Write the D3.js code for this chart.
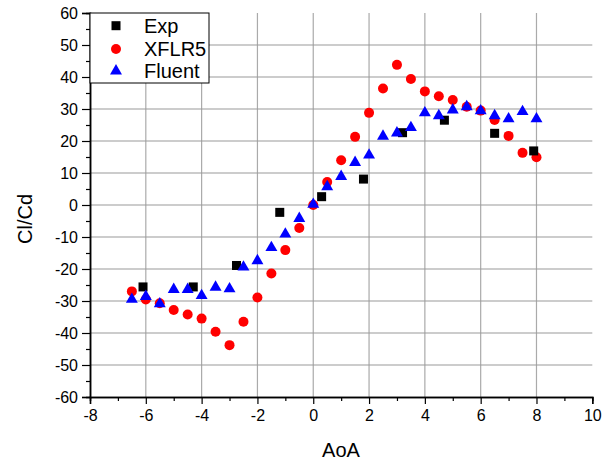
<!DOCTYPE html>
<html>
<head>
<meta charset="utf-8">
<script src="https://cdn.jsdelivr.net/npm/d3@7"></script>
<style>
  body { margin: 0; background: #fff; }
  text { font-family: "Liberation Sans", Arial, sans-serif; fill: #000; }
</style>
</head>
<body>
<svg id="chart" width="611" height="462"></svg>
<script>
// data
var expAoA = [-6.1, -4.3, -2.75, -1.2, 0.3, 1.8, 3.2, 4.7, 6.5, 7.9];
var expClCd = [-25.6, -25.6, -18.9, -2.3, 2.6, 8.1, 22.6, 26.5, 22.4, 16.9];

var xflrAoA = [-6.5, -6, -5.5, -5, -4.5, -4, -3.5, -3, -2.5, -2, -1.5, -1, -0.5, 0,
               0.5, 1, 1.5, 2, 2.5, 3, 3.5, 4, 4.5, 5, 5.5, 6, 6.5, 7, 7.5, 8];
var xflrClCd = [-27, -29.5, -30.7, -32.8, -34.2, -35.5, -39.6, -43.8, -36.5, -28.9, -21.4, -14.1, -7.2, 0,
                7.2, 14, 21.3, 28.8, 36.4, 43.8, 39.4, 35.5, 34, 32.8, 30.7, 29.5, 26.6, 21.6, 16.3, 14.9];

var fluentAoA = [-6.5, -6, -5.5, -5, -4.5, -4, -3.5, -3, -2.5, -2, -1.5, -1, -0.5, 0,
                 0.5, 1, 1.5, 2, 2.5, 3, 3.5, 4, 4.5, 5, 5.5, 6, 6.5, 7, 7.5, 8];
var fluentClCd = [-29.5, -28.6, -30.9, -26.4, -26.4, -28.3, -25.7, -26.2, -19.4, -17.4, -13.3, -9.1, -4.2, 0.2,
                  5.7, 8.9, 13.3, 15.6, 21.5, 22.5, 24.2, 28.8, 27.9, 29.7, 30.7, 29.4, 27.9, 26.9, 29.2, 26.9];

var xTicks = [-8, -6, -4, -2, 0, 2, 4, 6, 8, 10];
var yTicks = [-60, -50, -40, -30, -20, -10, 0, 10, 20, 30, 40, 50, 60];
var seriesNames = ["Exp", "XFLR5", "Fluent"];

var svg = d3.select("#chart");
var pLeft = 90, pRight = 592.3, pTop = 13, pBottom = 397;

var x = d3.scaleLinear().domain([-8, 10]).range([pLeft, pRight]);
var y = d3.scaleLinear().domain([-60, 60]).range([pBottom, pTop]);

// grid
svg.append("g").selectAll("line")
  .data(xTicks.filter(function(d) { return d > -8 && d < 10; }))
  .enter().append("line")
  .attr("x1", function(d) { return x(d); }).attr("x2", function(d) { return x(d); })
  .attr("y1", pTop).attr("y2", pBottom)
  .attr("stroke", "#aaa").attr("stroke-width", 1.2);

svg.append("g").selectAll("line")
  .data(yTicks.filter(function(d) { return d > -60 && d < 60; }))
  .enter().append("line")
  .attr("x1", pLeft).attr("x2", pRight)
  .attr("y1", function(d) { return y(d); }).attr("y2", function(d) { return y(d); })
  .attr("stroke", "#999").attr("stroke-width", 1.2);

// axes
var fmt = function(d) { return String(d); };
var xAxis = d3.axisBottom(x).tickValues(xTicks).tickSize(7).tickPadding(6).tickFormat(fmt);
var xMinor = d3.axisBottom(x).tickValues(d3.range(-7, 10, 2)).tickSize(4).tickFormat("");
var yAxis = d3.axisLeft(y).tickValues(yTicks).tickSize(8).tickPadding(4).tickFormat(fmt);
var yMinor = d3.axisLeft(y).tickValues(d3.range(-55, 60, 10)).tickSize(4).tickFormat("");

function styleAxis(g) {
  g.select(".domain").attr("stroke", "#000").attr("stroke-width", 1.5);
  g.selectAll(".tick line").attr("stroke", "#000").attr("stroke-width", 1.2);
  g.selectAll("text").attr("font-size", 16).attr("fill", "#000")
    .attr("font-family", "'Liberation Sans', Arial, sans-serif");
}

svg.append("g").attr("transform", "translate(0," + pBottom + ")").call(xMinor).call(styleAxis);
svg.append("g").attr("transform", "translate(0," + pBottom + ")").call(xAxis).call(styleAxis);
svg.append("g").attr("transform", "translate(" + pLeft + ",0)").call(yMinor).call(styleAxis);
svg.append("g").attr("transform", "translate(" + pLeft + ",0)").call(yAxis).call(styleAxis);

// axis titles
svg.append("text").attr("x", 341).attr("y", 457).attr("text-anchor", "middle")
  .attr("font-size", 20).text("AoA");
svg.append("text").attr("transform", "translate(32,219) rotate(-90)")
  .attr("text-anchor", "middle").attr("font-size", 20).text("Cl/Cd");

// markers
var tri = d3.symbol().type(d3.symbolTriangle).size(62);

svg.append("g").selectAll("circle")
  .data(d3.zip(xflrAoA, xflrClCd)).enter().append("circle")
  .attr("cx", function(d) { return x(d[0]); })
  .attr("cy", function(d) { return y(d[1]); })
  .attr("r", 5).attr("fill", "#ff0000");

svg.append("g").selectAll("rect")
  .data(d3.zip(expAoA, expClCd)).enter().append("rect")
  .attr("x", function(d) { return x(d[0]) - 4.5; })
  .attr("y", function(d) { return y(d[1]) - 4.5; })
  .attr("width", 9).attr("height", 9).attr("fill", "#000");

svg.append("g").selectAll("path")
  .data(d3.zip(fluentAoA, fluentClCd)).enter().append("path")
  .attr("transform", function(d) { return "translate(" + x(d[0]) + "," + y(d[1]) + ")"; })
  .attr("d", tri).attr("fill", "#0000ff");

// legend
var lg = svg.append("g");
lg.append("rect").attr("x", pLeft).attr("y", pTop).attr("width", 119).attr("height", 70)
  .attr("fill", "#fff").attr("stroke", "#000").attr("stroke-width", 1);
var rowY = [25.7, 49, 71];
lg.append("rect").attr("x", 111.5).attr("y", rowY[0] - 4.5).attr("width", 9).attr("height", 9).attr("fill", "#000");
lg.append("circle").attr("cx", 116).attr("cy", rowY[1]).attr("r", 5).attr("fill", "#ff0000");
lg.append("path").attr("transform", "translate(116," + rowY[2] + ")").attr("d", tri).attr("fill", "#0000ff");
lg.selectAll("text.leg").data(seriesNames).enter().append("text")
  .attr("class", "leg")
  .attr("x", 144).attr("y", function(d, i) { return rowY[i] + 7; })
  .attr("font-size", 20).text(function(d) { return d; });
</script>
</body>
</html>
